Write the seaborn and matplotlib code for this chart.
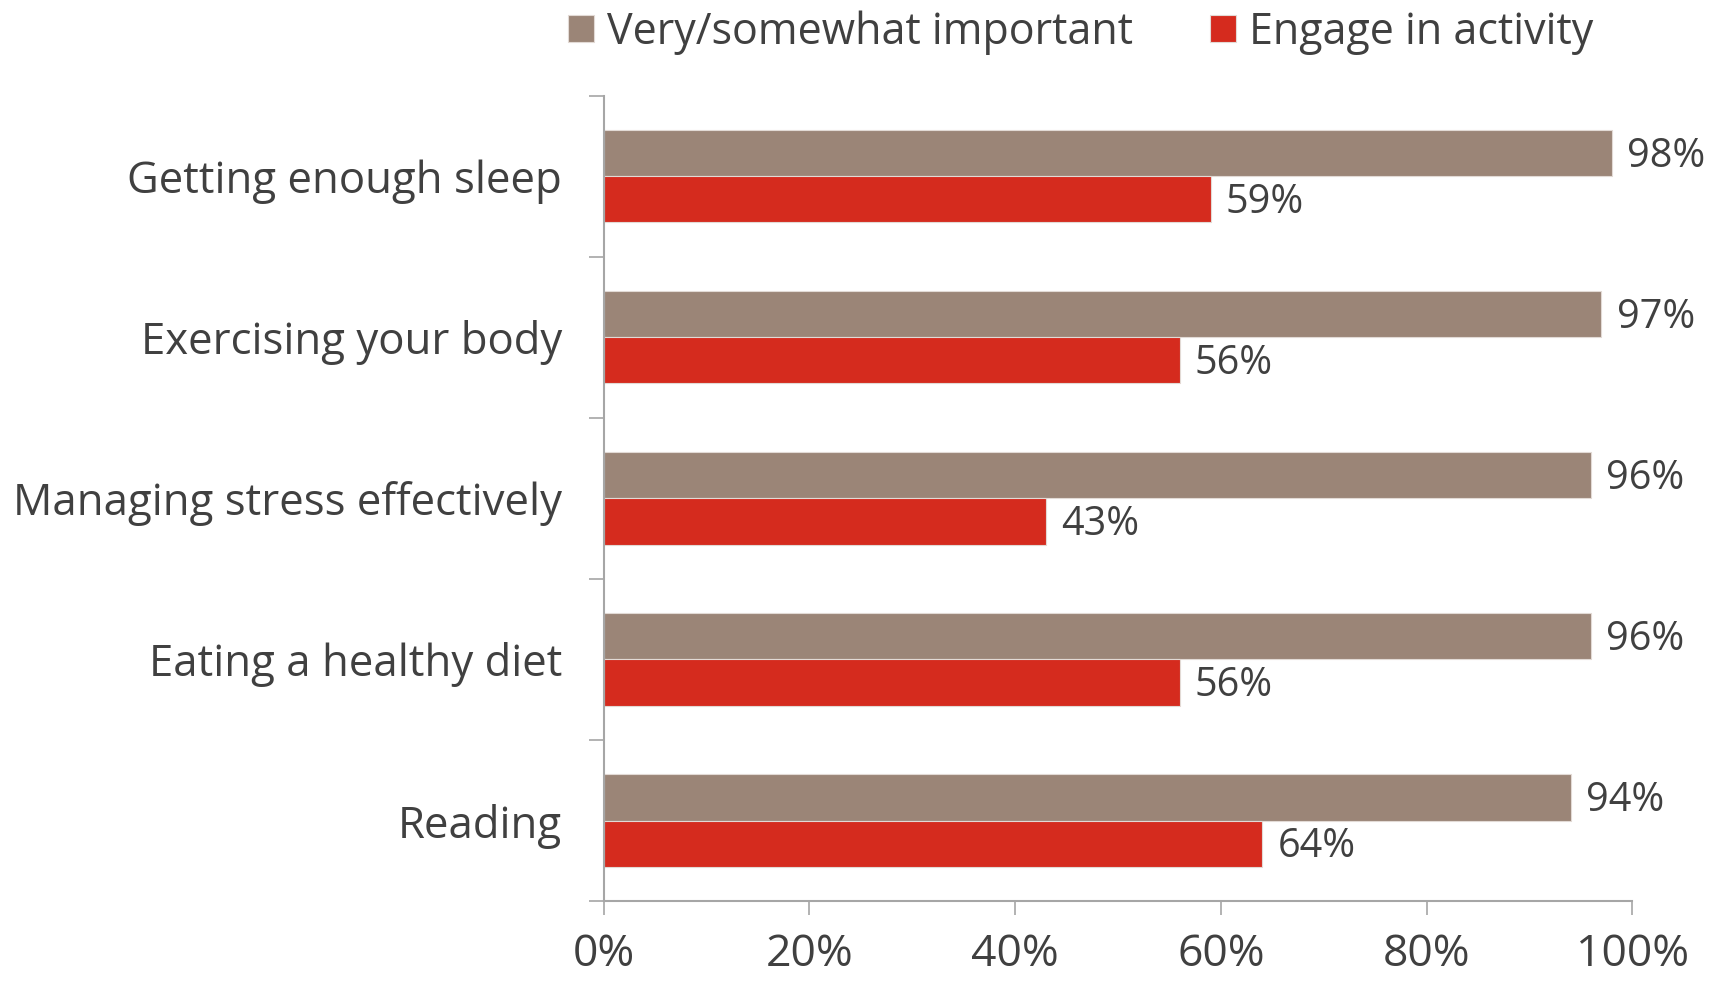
import matplotlib
matplotlib.use("Agg")
import matplotlib.pyplot as plt
import seaborn as sns
import pandas as pd

categories = ["Getting enough sleep", "Exercising your body", "Managing stress effectively",
              "Eating a healthy diet", "Reading"]
series_names = ["Very/somewhat important", "Engage in activity"]
important = [98, 97, 96, 96, 94]
engage = [59, 56, 43, 56, 64]
x_ticks = [0, 20, 40, 60, 80, 100]
x_tick_labels = ["0%", "20%", "40%", "60%", "80%", "100%"]

colors = ["#9b8577", "#d52b1e"]
text_color = "#404040"
axis_color = "#a6a6a6"

df = pd.DataFrame({
    "category": categories * 2,
    "series": [series_names[0]] * len(categories) + [series_names[1]] * len(categories),
    "value": important + engage,
})

sns.set_theme(style="white")
plt.rcParams["font.family"] = ["Open Sans", "DejaVu Sans"]

fig = plt.figure(figsize=(17.27, 9.81), dpi=100)
ax = fig.add_axes([0.3495, 0.0815, 0.5957, 0.8208])

sns.barplot(data=df, y="category", x="value", hue="series", order=categories,
            hue_order=series_names, palette=colors, orient="h", width=0.572,
            saturation=1, edgecolor="#e2dad5", linewidth=0.8, ax=ax)

for cont in ax.containers:
    anns = ax.bar_label(cont, labels=[f"{v:.0f}%" for v in cont.datavalues], padding=11,
                        fontsize=28.5, color=text_color)
    for a in anns:
        a.xyann = (11, -2.5)

ax.set_xlim(0, 100)
ax.set_ylim(len(categories) - 0.5, -0.5)
ax.set_xticks(x_ticks)
ax.set_xticklabels(x_tick_labels)
ax.set_xlabel("")
ax.set_ylabel("")

ax.set_yticks(range(len(categories)))
ax.set_yticklabels(categories)
ax.set_yticks([i - 0.5 for i in range(len(categories) + 1)], minor=True)
ax.tick_params(axis="y", which="major", length=0, pad=30, labelsize=31.5, labelcolor=text_color)
ax.tick_params(axis="y", which="minor", left=True, length=11, width=1.2, color=axis_color)
ax.tick_params(axis="x", which="major", bottom=True, length=10, width=1.2, color=axis_color,
               pad=13, labelsize=32, labelcolor=text_color)

for s in ["top", "right"]:
    ax.spines[s].set_visible(False)
for s in ["left", "bottom"]:
    ax.spines[s].set_color(axis_color)
    ax.spines[s].set_linewidth(1.5)

sns.move_legend(ax, "center", bbox_to_anchor=(0.6257, 0.967), bbox_transform=fig.transFigure,
                ncol=2, frameon=False, title=None, fontsize=31,
                handlelength=0.6, handleheight=0.6, handletextpad=0.3, columnspacing=1.8,
                labelcolor=text_color)

fig.savefig("out.png", dpi=100)
